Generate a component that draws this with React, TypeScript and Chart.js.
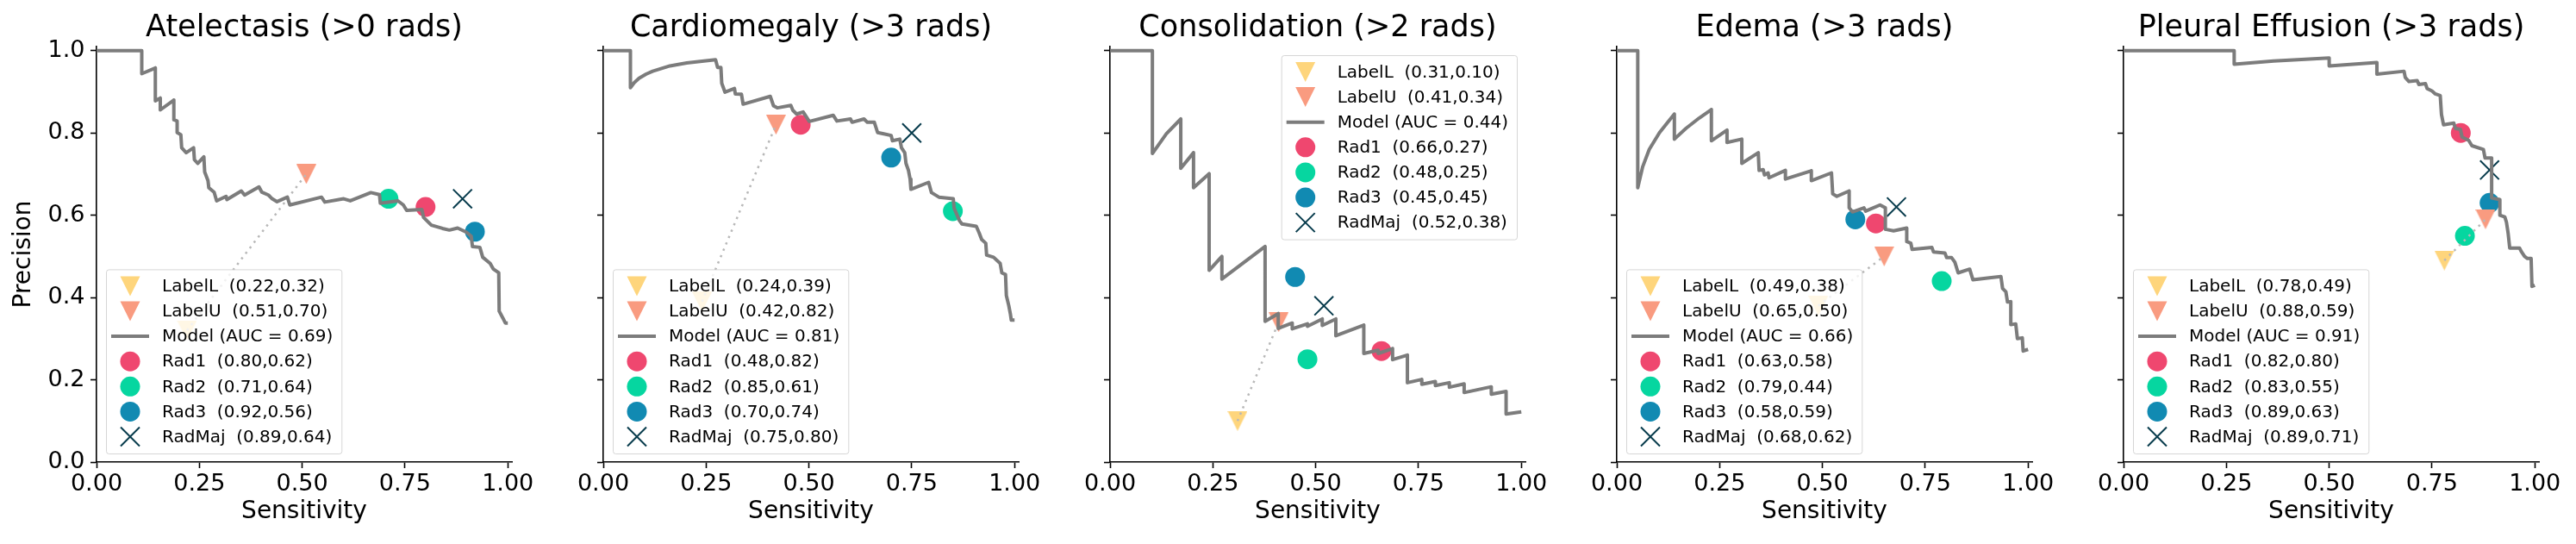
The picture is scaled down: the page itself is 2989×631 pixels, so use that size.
import { useEffect, useRef } from 'react';
import { Chart, registerables } from 'chart.js';

Chart.register(...registerables);

const FONT_FAMILY = '"DejaVu Sans", "Liberation Sans", sans-serif';

// ---- data -------------------------------------------------------------
const panelTitles = [
  'Atelectasis (>0 rads)',
  'Cardiomegaly (>3 rads)',
  'Consolidation (>2 rads)',
  'Edema (>3 rads)',
  'Pleural Effusion (>3 rads)',
];
const modelAuc = [0.69, 0.81, 0.44, 0.66, 0.91];

// operating points as [sensitivity, precision]
const labelL = [[0.22, 0.32], [0.24, 0.39], [0.31, 0.10], [0.49, 0.38], [0.78, 0.49]];
const labelU = [[0.51, 0.70], [0.42, 0.82], [0.41, 0.34], [0.65, 0.50], [0.88, 0.59]];
const rad1 = [[0.80, 0.62], [0.48, 0.82], [0.66, 0.27], [0.63, 0.58], [0.82, 0.80]];
const rad2 = [[0.71, 0.64], [0.85, 0.61], [0.48, 0.25], [0.79, 0.44], [0.83, 0.55]];
const rad3 = [[0.92, 0.56], [0.70, 0.74], [0.45, 0.45], [0.58, 0.59], [0.89, 0.63]];
const radMaj = [[0.89, 0.64], [0.75, 0.80], [0.52, 0.38], [0.68, 0.62], [0.89, 0.71]];

// precision-recall curves of the model, [sensitivity, precision]
const atelectasisCurve = [
  [0, 1.0], [0.110, 1.0], [0.110, 0.944], [0.143, 0.958], [0.143, 0.878], [0.155, 0.885],
  [0.155, 0.856], [0.188, 0.880], [0.188, 0.832], [0.196, 0.829], [0.196, 0.801], [0.205, 0.796],
  [0.207, 0.764], [0.218, 0.752], [0.236, 0.764], [0.238, 0.735], [0.246, 0.726], [0.261, 0.742],
  [0.263, 0.705], [0.271, 0.684], [0.273, 0.667], [0.286, 0.656], [0.292, 0.635], [0.315, 0.646],
  [0.317, 0.638], [0.352, 0.659], [0.360, 0.649], [0.395, 0.669], [0.402, 0.656], [0.418, 0.649],
  [0.427, 0.640], [0.439, 0.633], [0.464, 0.644], [0.470, 0.625], [0.547, 0.644], [0.555, 0.632],
  [0.601, 0.640], [0.617, 0.635], [0.667, 0.655], [0.688, 0.650], [0.690, 0.629], [0.733, 0.635],
  [0.746, 0.625], [0.754, 0.612], [0.791, 0.614], [0.795, 0.595], [0.814, 0.576], [0.841, 0.568],
  [0.858, 0.564], [0.878, 0.569], [0.899, 0.559], [0.911, 0.549], [0.914, 0.524], [0.932, 0.522],
  [0.939, 0.498], [0.957, 0.483], [0.965, 0.469], [0.978, 0.460], [0.979, 0.367], [0.988, 0.350],
  [0.994, 0.338], [1.0, 0.338],
];
const cardiomegalyCurve = [
  [0, 1.0], [0.066, 1.0], [0.066, 0.910], [0.075, 0.922], [0.087, 0.933], [0.104, 0.943],
  [0.120, 0.950], [0.162, 0.963], [0.203, 0.970], [0.273, 0.978], [0.278, 0.959], [0.286, 0.959],
  [0.288, 0.921], [0.296, 0.899], [0.319, 0.908], [0.321, 0.895], [0.336, 0.894], [0.340, 0.870],
  [0.406, 0.889], [0.414, 0.866], [0.423, 0.861], [0.456, 0.867], [0.461, 0.855], [0.470, 0.846],
  [0.486, 0.851], [0.501, 0.828], [0.559, 0.843], [0.568, 0.829], [0.601, 0.834], [0.605, 0.826],
  [0.634, 0.834], [0.642, 0.826], [0.659, 0.826], [0.667, 0.801], [0.682, 0.798], [0.700, 0.794],
  [0.703, 0.781], [0.721, 0.785], [0.725, 0.764], [0.733, 0.752], [0.736, 0.726], [0.742, 0.709],
  [0.746, 0.688], [0.748, 0.663], [0.791, 0.680], [0.798, 0.655], [0.816, 0.644], [0.851, 0.640],
  [0.853, 0.617], [0.866, 0.587], [0.872, 0.579], [0.907, 0.573], [0.914, 0.557], [0.920, 0.541],
  [0.930, 0.532], [0.932, 0.503], [0.949, 0.498], [0.965, 0.483], [0.969, 0.460], [0.978, 0.456],
  [0.980, 0.405], [0.986, 0.380], [0.990, 0.359], [0.992, 0.345], [1.0, 0.345],
];
const consolidationCurve = [
  [0, 1.0], [0.103, 1.0], [0.103, 0.750], [0.137, 0.798], [0.172, 0.834], [0.172, 0.714],
  [0.203, 0.752], [0.203, 0.667], [0.241, 0.701], [0.241, 0.466], [0.272, 0.500], [0.272, 0.445],
  [0.377, 0.524], [0.377, 0.342], [0.409, 0.361], [0.409, 0.325], [0.443, 0.338], [0.443, 0.324],
  [0.480, 0.336], [0.480, 0.330], [0.516, 0.348], [0.516, 0.332], [0.549, 0.348], [0.549, 0.307],
  [0.617, 0.333], [0.617, 0.264], [0.652, 0.272], [0.652, 0.264], [0.687, 0.276], [0.687, 0.249],
  [0.723, 0.260], [0.723, 0.193], [0.758, 0.201], [0.758, 0.189], [0.791, 0.196], [0.791, 0.186],
  [0.825, 0.193], [0.825, 0.182], [0.861, 0.190], [0.861, 0.169], [0.927, 0.183], [0.927, 0.165],
  [0.963, 0.172], [0.963, 0.117], [1.0, 0.122],
];
const edemaCurve = [
  [0, 1.0], [0.051, 1.0], [0.051, 0.667], [0.063, 0.718], [0.079, 0.760], [0.104, 0.801],
  [0.124, 0.826], [0.140, 0.846], [0.140, 0.785], [0.168, 0.811], [0.200, 0.836], [0.230, 0.857],
  [0.230, 0.781], [0.268, 0.807], [0.268, 0.777], [0.304, 0.785], [0.304, 0.726], [0.344, 0.752],
  [0.346, 0.709], [0.356, 0.711], [0.359, 0.698], [0.368, 0.703], [0.370, 0.691], [0.410, 0.709],
  [0.410, 0.688], [0.473, 0.708], [0.473, 0.684], [0.522, 0.703], [0.525, 0.652], [0.535, 0.646],
  [0.565, 0.659], [0.565, 0.618], [0.573, 0.608], [0.601, 0.618], [0.605, 0.610], [0.640, 0.625],
  [0.653, 0.618], [0.653, 0.566], [0.673, 0.562], [0.705, 0.569], [0.705, 0.536], [0.715, 0.532],
  [0.718, 0.517], [0.766, 0.522], [0.770, 0.511], [0.798, 0.508], [0.802, 0.497], [0.814, 0.497],
  [0.822, 0.486], [0.830, 0.460], [0.858, 0.469], [0.866, 0.443], [0.906, 0.448], [0.934, 0.451],
  [0.938, 0.422], [0.946, 0.414], [0.950, 0.389], [0.958, 0.390], [0.958, 0.334], [0.970, 0.336],
  [0.974, 0.300], [0.986, 0.302], [0.988, 0.270], [1.0, 0.274],
];
const effusionCurve = [
  [0, 1.0], [0.269, 1.0], [0.269, 0.967], [0.365, 0.975], [0.500, 0.982], [0.500, 0.963],
  [0.616, 0.971], [0.616, 0.943], [0.682, 0.950], [0.685, 0.935], [0.694, 0.925], [0.714, 0.927],
  [0.718, 0.918], [0.734, 0.920], [0.738, 0.908], [0.750, 0.902], [0.758, 0.895], [0.770, 0.891],
  [0.773, 0.845], [0.778, 0.820], [0.803, 0.824], [0.807, 0.811], [0.819, 0.809], [0.823, 0.790],
  [0.839, 0.782], [0.847, 0.769], [0.875, 0.760], [0.879, 0.739], [0.895, 0.739], [0.895, 0.642],
  [0.915, 0.638], [0.915, 0.600], [0.927, 0.596], [0.931, 0.583], [0.935, 0.557], [0.939, 0.520],
  [0.963, 0.520], [0.967, 0.512], [0.975, 0.500], [0.982, 0.495], [0.991, 0.495], [0.993, 0.427],
  [1.0, 0.430],
];
const modelCurves = [atelectasisCurve, cardiomegalyCurve, consolidationCurve, edemaCurve, effusionCurve];

const legendCorner = ['bottom-left', 'bottom-left', 'top-right', 'bottom-left', 'bottom-left'];

const xTicks = [0, 0.25, 0.5, 0.75, 1.0];
const yTicks = [0, 0.2, 0.4, 0.6, 0.8, 1.0];

// ---- styling -----------------------------------------------------------
const COLOR_LABEL_L = '#FED57C';
const COLOR_LABEL_U = '#F99B80';
const COLOR_MODEL = '#7c7c7c';
const COLOR_LINK = '#b8b8b8';
const COLOR_RAD1 = '#EF476F';
const COLOR_RAD2 = '#06D6A0';
const COLOR_RAD3 = '#118AB2';
const COLOR_MAJ = '#073B4C';

const PANEL_STEP = 588;
const CANVAS_W = 645;
const CANVAS_H = 631;
const MARKER = 23;
const MODEL_WIDTH = 4;

function triangleSprite(color: string, size: number) {
  const c = document.createElement('canvas');
  c.width = size;
  c.height = size;
  const g = c.getContext('2d')!;
  g.fillStyle = color;
  g.beginPath();
  g.moveTo(0, 0);
  g.lineTo(size, 0);
  g.lineTo(size / 2, size);
  g.closePath();
  g.fill();
  return c;
}

const pt = (p: number[]) => ({ x: p[0], y: p[1] });
const pair = (p: number[]) => `(${p[0].toFixed(2)},${p[1].toFixed(2)})`;

function legendPlugin(idx: number) {
  return {
    id: 'innerLegend',
    afterDatasetsDraw(chart: any) {
      const { ctx, chartArea } = chart;
      const entries = [
        { kind: 'tri', color: COLOR_LABEL_L, text: `LabelL  ${pair(labelL[idx])}` },
        { kind: 'tri', color: COLOR_LABEL_U, text: `LabelU  ${pair(labelU[idx])}` },
        { kind: 'line', color: COLOR_MODEL, text: `Model (AUC = ${modelAuc[idx].toFixed(2)})` },
        { kind: 'dot', color: COLOR_RAD1, text: `Rad1  ${pair(rad1[idx])}` },
        { kind: 'dot', color: COLOR_RAD2, text: `Rad2  ${pair(rad2[idx])}` },
        { kind: 'dot', color: COLOR_RAD3, text: `Rad3  ${pair(rad3[idx])}` },
        { kind: 'x', color: COLOR_MAJ, text: `RadMaj  ${pair(radMaj[idx])}` },
      ];
      ctx.save();
      ctx.font = `20px ${FONT_FAMILY}`;
      const textW = Math.max(...entries.map((e) => ctx.measureText(e.text).width));
      const w = 65 + textW + 10;
      const rowGap = 29.1;
      const edge = 19.5;
      const h = edge * 2 + rowGap * 6;
      const topRight = legendCorner[idx] === 'top-right';
      const left = topRight ? chartArea.right - 10 - w : chartArea.left + 11;
      const top = topRight ? chartArea.top + 10 : chartArea.bottom - 10 - h;

      ctx.beginPath();
      ctx.roundRect(left + 0.5, top + 0.5, w, h, 3);
      ctx.fillStyle = 'rgba(255,255,255,0.8)';
      ctx.fill();
      ctx.strokeStyle = 'rgba(204,204,204,0.8)';
      ctx.lineWidth = 1;
      ctx.stroke();

      const cx = left + 28;
      entries.forEach((e, i) => {
        const cy = top + edge + i * rowGap;
        if (e.kind === 'tri') {
          const s = MARKER / 2;
          ctx.fillStyle = e.color;
          ctx.beginPath();
          ctx.moveTo(cx - s, cy - s);
          ctx.lineTo(cx + s, cy - s);
          ctx.lineTo(cx, cy + s);
          ctx.closePath();
          ctx.fill();
        } else if (e.kind === 'line') {
          ctx.strokeStyle = e.color;
          ctx.lineWidth = MODEL_WIDTH;
          ctx.beginPath();
          ctx.moveTo(left + 6, cy);
          ctx.lineTo(left + 50, cy);
          ctx.stroke();
        } else if (e.kind === 'dot') {
          ctx.fillStyle = e.color;
          ctx.beginPath();
          ctx.arc(cx, cy, MARKER / 2, 0, Math.PI * 2);
          ctx.fill();
        } else {
          const s = 11;
          ctx.strokeStyle = e.color;
          ctx.lineWidth = 2;
          ctx.beginPath();
          ctx.moveTo(cx - s, cy - s);
          ctx.lineTo(cx + s, cy + s);
          ctx.moveTo(cx - s, cy + s);
          ctx.lineTo(cx + s, cy - s);
          ctx.stroke();
        }
        ctx.fillStyle = '#000';
        ctx.textAlign = 'left';
        ctx.textBaseline = 'middle';
        ctx.fillText(e.text, left + 65, cy + 1);
      });
      ctx.restore();
    },
  };
}

function Panel({ idx }: { idx: number }) {
  const ref = useRef<HTMLCanvasElement>(null);

  useEffect(() => {
    const canvas = ref.current;
    if (!canvas) return;
    const first = idx === 0;
    const circle = (label: string, p: number[], color: string) => ({
      label,
      data: [pt(p)],
      pointStyle: 'circle',
      pointRadius: MARKER / 2,
      backgroundColor: color,
      borderColor: color,
      borderWidth: 0,
      order: 3,
    });
    const chart = new Chart(canvas, {
      type: 'scatter',
      data: {
        datasets: [
          {
            label: 'Model',
            data: modelCurves[idx].map(pt),
            showLine: true,
            borderColor: COLOR_MODEL,
            borderWidth: MODEL_WIDTH,
            borderJoinStyle: 'round',
            pointRadius: 0,
            order: 0,
          },
          {
            label: 'LabelL-LabelU',
            data: [pt(labelL[idx]), pt(labelU[idx])],
            showLine: true,
            borderColor: COLOR_LINK,
            borderWidth: 2.5,
            borderDash: [2.5, 5.5],
            pointRadius: 0,
            order: 1,
          },
          {
            label: 'LabelL',
            data: [pt(labelL[idx])],
            pointStyle: triangleSprite(COLOR_LABEL_L, MARKER),
            pointRadius: MARKER / 2,
            order: 2,
          },
          {
            label: 'LabelU',
            data: [pt(labelU[idx])],
            pointStyle: triangleSprite(COLOR_LABEL_U, MARKER),
            pointRadius: MARKER / 2,
            order: 2,
          },
          circle('Rad1', rad1[idx], COLOR_RAD1),
          circle('Rad2', rad2[idx], COLOR_RAD2),
          circle('Rad3', rad3[idx], COLOR_RAD3),
          {
            label: 'RadMaj',
            data: [pt(radMaj[idx])],
            pointStyle: 'crossRot',
            pointRadius: 15.5,
            borderColor: COLOR_MAJ,
            backgroundColor: COLOR_MAJ,
            borderWidth: 2,
            order: 3,
          },
        ] as any,
      },
      options: {
        animation: false,
        responsive: false,
        devicePixelRatio: 1,
        events: [],
        layout: { padding: { top: 0, left: 0, bottom: 0, right: CANVAS_W - 594 } },
        plugins: {
          legend: { display: false },
          tooltip: { enabled: false },
          title: {
            display: true,
            text: panelTitles[idx],
            fullSize: false,
            color: '#000',
            font: { family: FONT_FAMILY, size: 35, weight: 'normal', lineHeight: 1.2 },
            padding: { top: 11.5, bottom: 0.5 },
          },
        },
        scales: {
          x: {
            type: 'linear',
            min: 0,
            max: 1.01,
            afterBuildTicks: (s: any) => {
              s.ticks = xTicks.map((v) => ({ value: v }));
            },
            afterFit: (s: any) => {
              s.height = 95;
            },
            ticks: {
              autoSkip: false,
              maxRotation: 0,
              padding: 3,
              color: '#000',
              font: { family: FONT_FAMILY, size: 27 },
              callback: (v: any) => Number(v).toFixed(2),
            },
            grid: {
              display: true,
              drawOnChartArea: false,
              drawTicks: true,
              tickLength: 7,
              tickColor: '#000',
              tickWidth: 1.6,
            },
            border: { display: true, color: '#000', width: 1.6 },
            title: {
              display: true,
              text: 'Sensitivity',
              color: '#000',
              font: { family: FONT_FAMILY, size: 28, lineHeight: 1.2 },
              padding: { top: 0, bottom: 20 },
            },
          },
          y: {
            type: 'linear',
            min: 0,
            max: 1.01,
            afterBuildTicks: (s: any) => {
              s.ticks = yTicks.map((v) => ({ value: v }));
            },
            afterFit: (s: any) => {
              s.width = 112;
            },
            ticks: {
              autoSkip: false,
              padding: 6.5,
              color: '#000',
              font: { family: FONT_FAMILY, size: 27 },
              callback: (v: any) => (first ? Number(v).toFixed(1) : ''),
            },
            grid: {
              display: true,
              drawOnChartArea: false,
              drawTicks: true,
              tickLength: 7,
              tickColor: '#000',
              tickWidth: 1.6,
            },
            border: { display: true, color: '#000', width: 1.6 },
            title: {
              display: first,
              text: 'Precision',
              color: '#000',
              font: { family: FONT_FAMILY, size: 28, lineHeight: 1.2 },
              padding: { top: 11, bottom: 0 },
            },
          },
        },
      } as any,
      plugins: [legendPlugin(idx)],
    });
    return () => chart.destroy();
  }, [idx]);

  return (
    <canvas
      ref={ref}
      width={CANVAS_W}
      height={CANVAS_H}
      style={{
        position: 'absolute',
        left: PANEL_STEP * idx,
        top: 0,
        width: CANVAS_W,
        height: CANVAS_H,
      }}
    />
  );
}

export default function App() {
  return (
    <div
      style={{
        position: 'fixed',
        left: 0,
        top: 0,
        width: 2989,
        height: 631,
        background: '#fff',
        overflow: 'hidden',
      }}
    >
      {panelTitles.map((_, i) => (
        <Panel key={i} idx={i} />
      ))}
    </div>
  );
}
